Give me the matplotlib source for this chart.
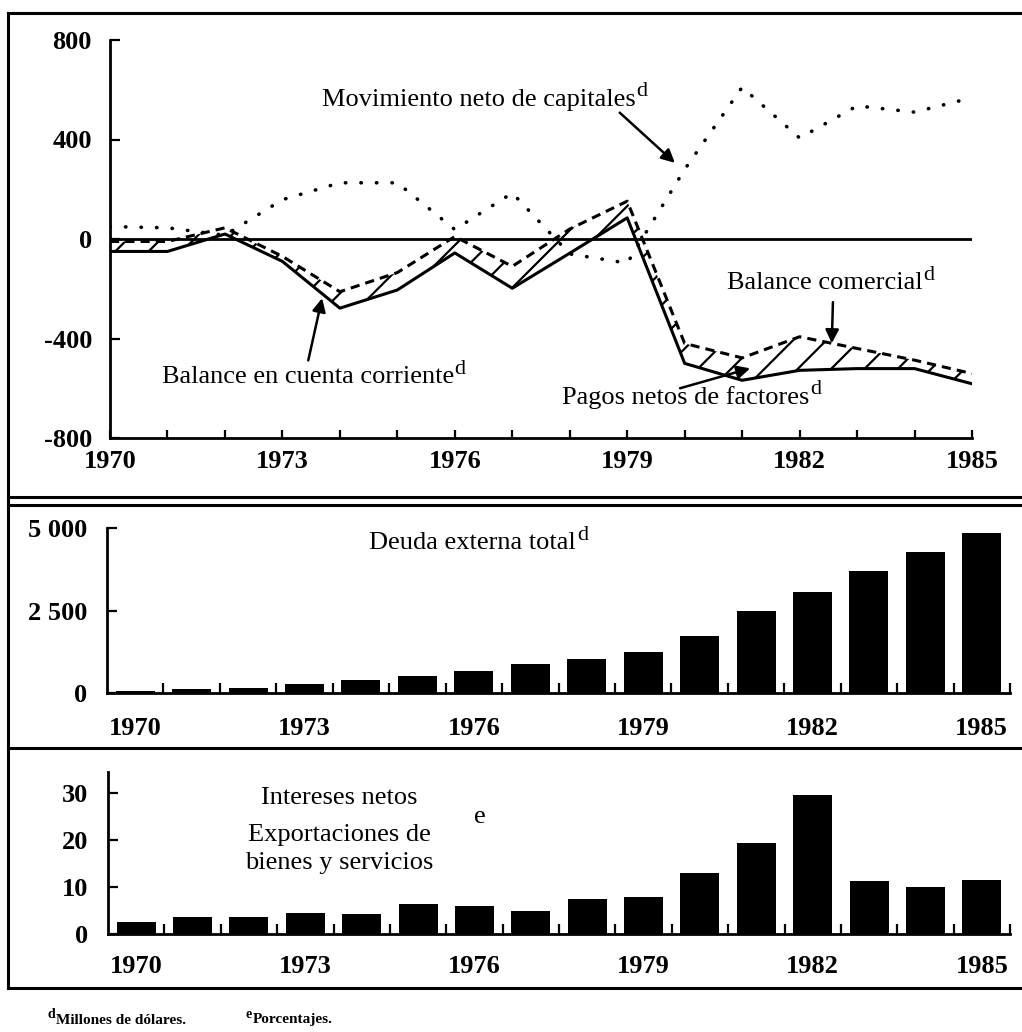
import matplotlib
matplotlib.use('Agg')
import matplotlib.pyplot as plt
from matplotlib.lines import Line2D

# ---------------- data ----------------
years = list(range(1970, 1986))
cuenta_corriente = [-50, -50, 20, -90, -278, -205, -56, -198, -57, 85, -500, -568, -528, -521, -521, -582]
balance_comercial = [-10, -10, 45, -70, -212, -135, 10, -110, 40, 152, -420, -478, -393, -440, -487, -541]
capitales = [50, 45, 15, 158, 226, 226, 38, 185, -60, -97, 280, 610, 406, 535, 510, 568]
deuda = [70, 120, 160, 285, 385, 516, 680, 880, 1023, 1256, 1721, 2480, 3048, 3704, 4281, 4838]
intereses = [2.5, 3.7, 3.6, 4.4, 4.2, 6.3, 6.0, 4.8, 7.5, 7.8, 12.9, 19.3, 29.5, 11.3, 10.1, 11.5]
year_labels = [1970, 1973, 1976, 1979, 1982, 1985]
top_yticks = [-800, -400, 0, 400, 800]
mid_yticks = [0, 2500, 5000]
mid_ylabels = ['0', '2 500', '5 000']
bot_yticks = [0, 10, 20, 30]

plt.rcParams['font.family'] = ['Liberation Serif', 'DejaVu Serif']
plt.rcParams['axes.unicode_minus'] = False
plt.rcParams['hatch.linewidth'] = 1.6

W, H = 1022, 1032
fig = plt.figure(figsize=(W / 100, H / 100), dpi=100)
FS = 19


def ax_px(l, t, r, b):
    return fig.add_axes([l / W, 1 - b / H, (r - l) / W, (b - t) / H])


def style(ax):
    for s in ('top', 'right'):
        ax.spines[s].set_visible(False)
    for s in ('left', 'bottom'):
        ax.spines[s].set_linewidth(2)
    ax.set_facecolor('none')


def bold_ticks(ax):
    for lab in ax.get_xticklabels() + ax.get_yticklabels():
        lab.set_fontweight('bold')


def label_sup(ax, x, y, s, sup='d', **kw):
    t = ax.text(x, y, s, fontsize=FS, ha='left', va='center', **kw)
    ax.annotate(sup, xy=(1.0, 0.42), xycoords=t, xytext=(0.5, 0), textcoords='offset points',
                fontsize=16, ha='left', va='bottom')
    return t


# ---------------- top panel ----------------
ax1 = ax_px(110, 40, 972, 438)
style(ax1)
ax1.set_xlim(1970, 1985)
ax1.set_ylim(-800, 800)
ax1.axhline(0, color='black', lw=2, zorder=1)
ax1.fill_between(years, cuenta_corriente, balance_comercial, facecolor='none',
                 edgecolor='black', hatch='/', linewidth=0, zorder=2)
ax1.plot(years, cuenta_corriente, color='black', lw=2.2, zorder=3)
ax1.plot(years, balance_comercial, color='black', lw=2.2, linestyle=(0, (3, 2)), zorder=3)
ax1.plot(years, capitales, color='black', lw=2.6, linestyle=(0, (0.1, 4.2)),
         dash_capstyle='round', zorder=3)
ax1.set_xticks(year_labels)
ax1.set_xticks(years, minor=True)
ax1.tick_params(axis='x', which='both', direction='in', length=6, width=1.6)
ax1.tick_params(axis='x', which='major', pad=9, labelsize=FS)
ax1.set_yticks(top_yticks)
ax1.tick_params(axis='y', direction='in', length=7, width=1.6, pad=13, labelsize=FS)
bold_ticks(ax1)

arrow = dict(arrowstyle='-|>', color='black', lw=1.8, mutation_scale=20, shrinkA=0, shrinkB=0)
label_sup(ax1, 1973.69, 560, 'Movimiento neto de capitales')
ax1.annotate('', xy=(1979.83, 306), xytext=(1978.87, 508), arrowprops=arrow)
label_sup(ax1, 1970.9, -556, 'Balance en cuenta corriente')
ax1.annotate('', xy=(1973.69, -238), xytext=(1973.45, -488), arrowprops=arrow)
label_sup(ax1, 1980.74, -177, 'Balance comercial')
ax1.annotate('', xy=(1982.56, -419), xytext=(1982.58, -254), arrowprops=arrow)
label_sup(ax1, 1977.87, -637, 'Pagos netos de factores')
ax1.annotate('', xy=(1981.14, -520), xytext=(1979.92, -600), arrowprops=arrow)

# ---------------- middle panel ----------------
half_years = [y + 0.5 for y in years]
ax2 = ax_px(107, 528, 1010, 693)
style(ax2)
ax2.set_xlim(1969.5, 1985.5)
ax2.set_ylim(0, 5000)
ax2.bar(years, deuda, width=0.69, color='black')
ax2.set_xticks(year_labels)
ax2.set_xticks(half_years, minor=True)
ax2.tick_params(axis='x', which='major', length=0, pad=17, labelsize=FS)
ax2.tick_params(axis='x', which='minor', direction='in', length=7, width=1.6)
ax2.set_yticks(mid_yticks)
ax2.set_yticklabels(mid_ylabels)
ax2.tick_params(axis='y', direction='in', length=7, width=1.6, pad=14, labelsize=FS)
bold_ticks(ax2)
label_sup(ax2, 1974.15, 4545, 'Deuda externa total')

# ---------------- bottom panel ----------------
ax3 = ax_px(108, 772, 1010, 934)
style(ax3)
ax3.set_xlim(1969.5, 1985.5)
ax3.set_ylim(0, 34.5)
ax3.bar(years, intereses, width=0.69, color='black')
ax3.set_xticks(year_labels)
ax3.set_xticks(half_years, minor=True)
ax3.tick_params(axis='x', which='major', length=0, pad=15, labelsize=FS)
ax3.tick_params(axis='x', which='minor', direction='in', length=7, width=1.6)
ax3.set_yticks(bot_yticks)
ax3.tick_params(axis='y', direction='in', length=7, width=1.6, pad=14, labelsize=FS)
bold_ticks(ax3)
ax3.text(1973.6, 29.0, 'Intereses netos', fontsize=FS, ha='center', va='center')
ax3.text(1973.6, 21.1, 'Exportaciones de', fontsize=FS, ha='center', va='center')
ax3.text(1973.6, 15.1, 'bienes y servicios', fontsize=FS, ha='center', va='center')
ax3.text(1976.1, 25.0, 'e', fontsize=FS, ha='center', va='center')

# ---------------- frames ----------------
def hline(y, x0=8, x1=W, lw=2.2):
    fig.add_artist(Line2D([x0 / W, x1 / W], [1 - y / H, 1 - y / H], color='black', lw=lw,
                          transform=fig.transFigure))


hline(13)
hline(497)
hline(505)
hline(748)
hline(988)
fig.add_artist(Line2D([8 / W, 8 / W], [1 - 13 / H, 1 - 988 / H], color='black', lw=2.2,
                      transform=fig.transFigure))

# ---------------- footnotes ----------------
for x, sup, txt in [(48, 'd', 'Millones de dólares.'), (245, 'e', 'Porcentajes.')]:
    fig.text(x / W, 1 - 1014 / H, sup, fontsize=10, fontweight='bold', ha='left', va='center')
    fig.text(x / W + 8 / W, 1 - 1020 / H, txt, fontsize=11, fontweight='bold',
             ha='left', va='center')

fig.savefig('out.png', dpi=100)
